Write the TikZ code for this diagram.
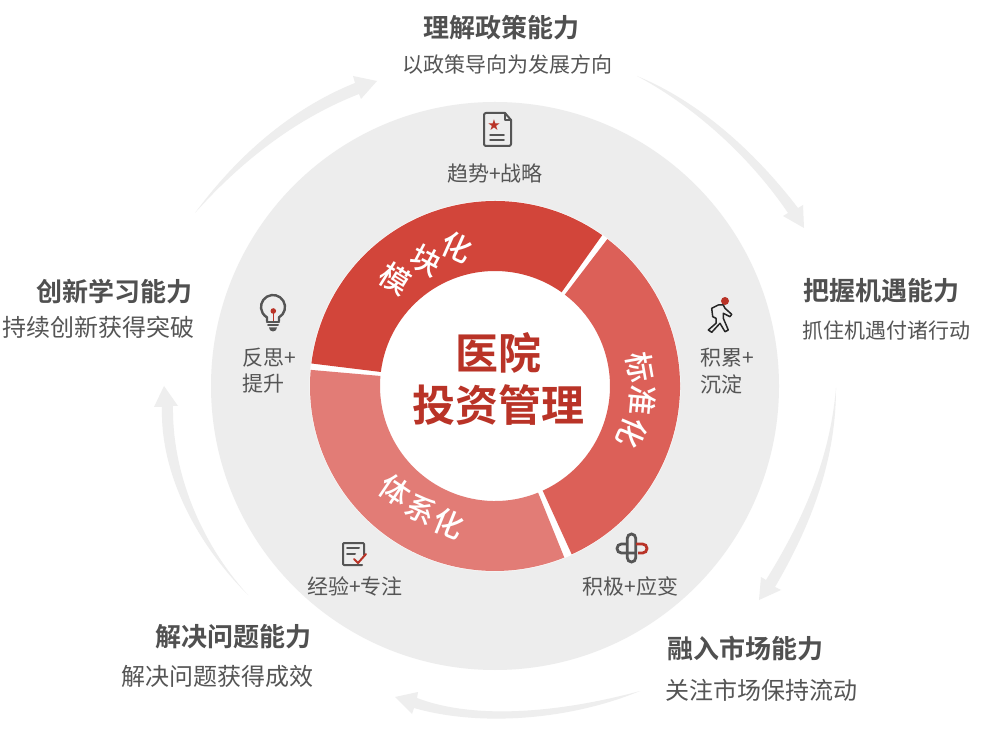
\documentclass[tikz,border=0pt]{standalone}
\usepackage{fontspec}
\setmainfont{Noto Sans CJK SC}[BoldFont={Noto Sans CJK SC Medium}]
\newfontfamily\heavycjk{Noto Sans CJK SC Bold}
\newfontfamily\symfont{DejaVu Sans}
\usetikzlibrary{calc}
\definecolor{disc}{HTML}{EDEDED}
\definecolor{arrowc}{HTML}{EEEEEE}
\definecolor{segA}{HTML}{D2453A}
\definecolor{segB}{HTML}{DC6058}
\definecolor{segC}{HTML}{E27C76}
\definecolor{titlec}{HTML}{505050}
\definecolor{subc}{HTML}{555555}
\definecolor{redc}{HTML}{B93327}
\definecolor{iconc}{HTML}{555555}
\tikzset{
  capTitle/.style={font=\fontsize{26}{30}\selectfont\heavycjk,text=titlec,inner sep=0pt},
  capSub/.style={font=\fontsize{21}{25}\selectfont,text=subc,inner sep=0pt},
  capWide/.style={font=\fontsize{24}{28}\selectfont,text=subc,inner sep=0pt},
  capSmall/.style={font=\fontsize{21}{25}\selectfont,text=subc,inner sep=0pt,align=left},
  ringChar/.style={font=\fontsize{30}{32}\selectfont\bfseries,text=white,inner sep=0pt},
  centerText/.style={font=\fontsize{43}{50}\selectfont\heavycjk,text=redc,inner sep=0pt,align=center},
  flow/.style={fill=arrowc,draw=none},
  iconLine/.style={draw=iconc,line width=2pt,line cap=round,line join=round},
  iconRed/.style={draw=redc,line width=2pt,line cap=round,line join=round}
}
\newcommand{\ringseg}[3]{\fill[#3] (495,356) ++(#1:185) arc[start angle=#1,end angle=#2,radius=185] -- ($(495,356)+(#2:115)$) arc[start angle=#2,end angle=#1,radius=115] -- cycle;}
\begin{document}
\begin{tikzpicture}[x=1pt,y=1pt]
\useasboundingbox (0,0) rectangle (982,742);
\fill[white] (0,0) rectangle (982,742);
\fill[disc] (495,356) circle[radius=284];
\fill[white] (495,356) circle[radius=185.5];
% ring
\ringseg{54.6}{173.0}{segA}
\ringseg{-65.5}{52.6}{segB}
\ringseg{175.0}{292.0}{segC}
% flow arrows
\fill[flow] (195,529) .. controls (240,590) and (295,635) .. (355,659) -- (353,666) -- (377,661) -- (361,643) -- (359,648) .. controls (300,625) and (245,585) .. cycle;
\fill[flow] (637,666) .. controls (700,640) and (755,590) .. (798,534) -- (803,537) -- (804,514) -- (783,526) -- (788,529) .. controls (750,585) and (695,635) .. cycle;
\fill[flow] (836,354) .. controls (836,280) and (810,215) .. (775,155) -- (781,152) -- (759,142) -- (761,165) -- (766,162) .. controls (805,225) and (830,285) .. cycle;
\fill[flow] (640,51) .. controls (570,32) and (480,20) .. (417,44) -- (418,50) -- (395,45) -- (412,28) -- (414,34) .. controls (480,15) and (570,22) .. cycle;
\fill[flow] (248,147) .. controls (195,200) and (160,270) .. (162,335) -- (154,335) -- (164,356) -- (178,336) -- (173,336) .. controls (172,270) and (200,200) .. cycle;
% titles
\node[capTitle] (t1) at (501,714.5) {理解政策能力};
\node[capSub] (s1) at (507,677) {以政策导向为发展方向};
\node[capTitle] (t2) at (881,451) {把握机遇能力};
\node[capSub] (s2) at (886,411) {抓住机遇付诸行动};
\node[capTitle] (t3) at (745.5,93) {融入市场能力};
\node[capWide] (s3) at (761.5,52) {关注市场保持流动};
\node[capTitle] (t4) at (233.5,105) {解决问题能力};
\node[capWide] (s4) at (217.5,66) {解决问题获得成效};
\node[capTitle] (t5) at (114.5,450) {创新学习能力};
\node[capWide] (s5) at (98.5,415) {持续创新获得突破};
% small
\node[capSmall] (m1) at (495,569) {趋势+战略};
\node[capSmall,anchor=west] (m2) at (700,384) {积累+};
\node[capSmall,anchor=west] (m2b) at (700,358) {沉淀};
\node[capSmall] (m3) at (630.5,156) {积极+应变};
\node[capSmall] (m4) at (355,156) {经验+专注};
\node[capSmall,anchor=west] (m5) at (242,384) {反思+};
\node[capSmall,anchor=west] (m5b) at (242,358) {提升};
% center
\node[centerText] (c1) at (498,389) {医院};
\node[centerText] (c2) at (498,337) {投资管理};
% ring labels
\node[ringChar,rotate=-32] (a1) at (395,463) {模};
\node[ringChar,rotate=-28] (a2) at (426,481) {块};
\node[ringChar,rotate=-24] (a3) at (457,495) {化};
\node[ringChar,rotate=-80] (b1) at (640,375) {标};
\node[ringChar,rotate=-95] (b2) at (642,342) {准};
\node[ringChar,rotate=-113] (b3) at (632,309) {化};
\node[ringChar,rotate=-34] (d1) at (395,252) {体};
\node[ringChar,rotate=-28] (d2) at (421,233) {系};
\node[ringChar,rotate=-22] (d3) at (449,218) {化};
% icon doc
\draw[iconLine,rounded corners=2pt] (505,629) -- (484,629) -- (484,596) -- (511,596) -- (511,622);
\draw[iconLine] (505,629) -- (511,622);
\draw[iconLine,line width=1.2pt] (505,629) -- (505,622) -- (511,622);
\draw[iconLine,line width=1.5pt] (490,607) -- (504,607) (490,602) -- (504,602);
\node[text=redc,inner sep=0pt,font=\fontsize{15}{15}\selectfont\symfont] (star) at (494,617) {★};
% icon walker
\fill[redc] (725,441) circle[radius=4];
\draw[draw=black!85,line width=1.5pt,line join=round,line cap=round] (718.3,437) -- (711.7,433.7) -- (712.7,425.3) -- (716,423.7) -- (716,418.7) -- (708.3,412) -- (711.7,409.7) -- (720,418.7) -- (725,410.3) -- (728.3,412) -- (723.3,423.7) -- (723.3,428.7) -- (730,425.3) -- (731.7,427.7) -- (725,433.7) -- (723.3,437) -- cycle;
% icon link
\draw[iconc,line width=2.8pt,rounded corners=4.2pt] (627.3,180) rectangle (635.7,208);
\draw[iconc,line width=2.8pt,rounded corners=4.4pt] (626,198) -- (617,198) -- (617,189) -- (636,189);
\draw[redc,line width=2.8pt,rounded corners=4.4pt] (636,198) -- (647,198) -- (647,189) -- (638,189);
% icon check
\draw[iconLine,rounded corners=1pt] (364,187) -- (364,199) -- (343,199) -- (343,177) -- (362,177);
\draw[iconLine] (347,194) -- (359,194) (347,188) -- (355,188);
\draw[iconRed] (354,183) -- (358,179) -- (366,188);
% icon bulb
\draw[iconLine,line width=2.4pt] (279,424.6) arc[start angle=-60,end angle=240,radius=12] -- (267,421) (279,424.6) -- (279,421);
\draw[iconLine,line width=2.2pt] (267,420) -- (279,420);
\draw[iconLine,line width=2pt] (268,416.5) -- (278,416.5);
\fill[iconc] (269,414.5) -- (277,414.5) arc[start angle=0,end angle=-180,radius=4] -- cycle;
\draw[redc,line width=1.5pt] (273.3,421) -- (273.3,431);
\fill[redc] (273.3,431) circle[radius=2.8];
\end{tikzpicture}
\end{document}
